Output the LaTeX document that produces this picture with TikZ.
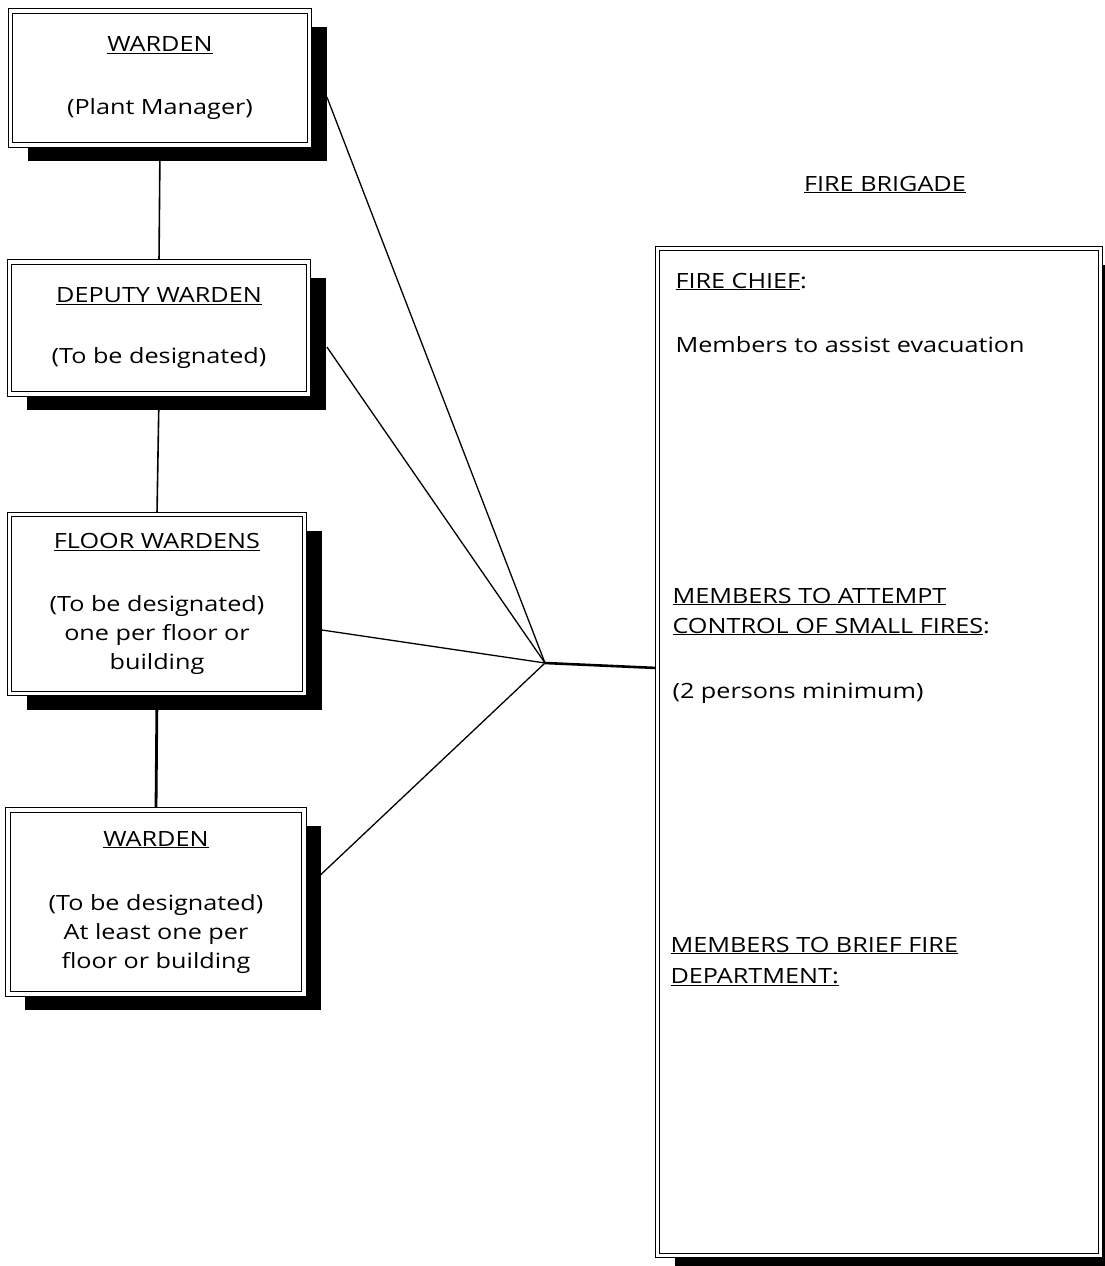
\documentclass[tikz,border=0pt]{standalone}
\usepackage{fontspec}
\setmainfont{Open Sans}[FakeStretch=1.2]
\usetikzlibrary{shadows,backgrounds}

\begin{document}
\begin{tikzpicture}[x=1pt,y=-1pt,
  every node/.style={font=\fontsize{21}{29}\selectfont},
  wbox/.style={draw,line width=0.8pt,double,double distance=3.6pt,fill=white,
    align=center,inner sep=0pt,
    drop shadow={shadow xshift=17pt,shadow yshift=-16pt,opacity=1,fill=black}},
  link/.style={line width=1.3pt}]
\useasboundingbox (0,0) rectangle (1105,1266);

\node[wbox,minimum width=299pt,minimum height=134pt] (plant) at (160,78)
  {\underline{WARDEN}\\[34pt](Plant Manager)};
\node[wbox,minimum width=299pt,minimum height=132pt] (deputy) at (159,328)
  {\underline{DEPUTY WARDEN}\\[32pt](To be designated)};
\node[wbox,minimum width=295pt,minimum height=179pt] (floor) at (157,604)
  {\underline{FLOOR WARDENS}\\[34pt](To be designated)\\one per floor or\\building};
\node[wbox,minimum width=296pt,minimum height=184pt] (warden) at (156,902)
  {\underline{WARDEN}\\[35pt](To be designated)\\At least one per\\floor or building};

\node[anchor=base] (title) at (885,191) {\underline{FIRE BRIGADE}};
\node[wbox,minimum width=443pt,minimum height=1007pt] (brigade) at (879,752) {};

\node[anchor=base west] (chief) at (672,288) {\underline{FIRE CHIEF}:};
\node[anchor=base west] (assist) at (672,352) {Members to assist evacuation};
\node[anchor=base west] (attempt) at (669,603) {\underline{MEMBERS TO ATTEMPT}};
\node[anchor=base west] (control) at (669,633) {\underline{CONTROL OF SMALL FIRES}:};
\node[anchor=base west] (persons) at (669,698) {(2 persons minimum)};
\node[anchor=base west] (brief) at (667,952) {\underline{MEMBERS TO BRIEF FIRE}};
\node[anchor=base west] (dept) at (667,983) {\underline{DEPARTMENT:}};

\coordinate (hub) at (545,663);

\begin{scope}[on background layer]
\draw[line width=1.6pt] (plant.south) -- (deputy.north);
\draw[line width=1.6pt] (deputy.south) -- (floor.north);
\draw[line width=2.8pt] (floor.south) -- (warden.north);
\draw[link] ([shift={(17pt,-19pt)}]plant.east) -- (hub);
\draw[link] ([shift={(18pt,-19pt)}]deputy.east) -- (hub);
\draw[link] ([shift={(17pt,-26pt)}]floor.east) -- (hub);
\draw[link] ([shift={(16pt,27pt)}]warden.east) -- (hub);
\draw[line width=2.6pt] (hub) -- ([yshift=84pt]brigade.west);
\end{scope}
\end{tikzpicture}
\end{document}
